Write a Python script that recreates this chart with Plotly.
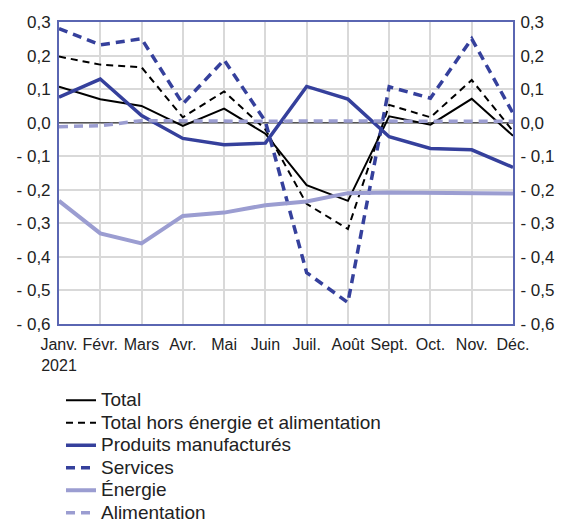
import plotly.graph_objects as go

months = ["Janv.", "Févr.", "Mars", "Avr.", "Mai", "Juin", "Juil.", "Août", "Sept.", "Oct.", "Nov.", "Déc."]
month_labels = ["Janv.<br>2021"] + months[1:]

total = [0.107, 0.07, 0.05, -0.01, 0.042, -0.033, -0.186, -0.233, 0.019, -0.006, 0.071, -0.039]
total_hors = [0.197, 0.173, 0.165, 0.016, 0.093, -0.02, -0.242, -0.317, 0.053, 0.016, 0.127, -0.025]
manufactures = [0.076, 0.13, 0.021, -0.047, -0.066, -0.061, 0.108, 0.07, -0.042, -0.077, -0.081, -0.133]
services = [0.28, 0.232, 0.25, 0.056, 0.187, 0.004, -0.447, -0.536, 0.107, 0.073, 0.25, 0.028]
energie = [-0.233, -0.33, -0.36, -0.278, -0.268, -0.246, -0.235, -0.21, -0.208, -0.209, -0.21, -0.211]
alimentation = [-0.012, -0.009, 0.006, 0.005, 0.003, 0.004, 0.005, 0.005, 0.004, 0.004, 0.005, 0.004]

ytickvals = [0.3, 0.2, 0.1, 0.0, -0.1, -0.2, -0.3, -0.4, -0.5, -0.6]
yticktext = ["0,3", "0,2", "0,1", "0,0", "- 0,1", "- 0,2", "- 0,3", "- 0,4", "- 0,5", "- 0,6"]

DARK = "#35409c"
LIGHT = "#9b9dd1"
AXIS = "#5a66b2"
FAM = "Liberation Sans, Arial, sans-serif"

x = list(range(12))
series = [
    ("Total", total, dict(color="black", width=2)),
    ("Total hors énergie et alimentation", total_hors, dict(color="black", width=2, dash="7px,5px")),
    ("Produits manufacturés", manufactures, dict(color=DARK, width=3.5)),
    ("Services", services, dict(color=DARK, width=3.5, dash="9px,6px")),
    ("Énergie", energie, dict(color=LIGHT, width=4)),
    ("Alimentation", alimentation, dict(color=LIGHT, width=3.5, dash="9px,6px")),
]

fig = go.Figure()
fig.add_trace(go.Scatter(x=[0, 11], y=[0, 0], mode="lines", line=dict(color="#555555", width=1.5),
                         showlegend=False, hoverinfo="skip"))
for i, (name, vals, line) in enumerate(series):
    fig.add_trace(go.Scatter(x=x, y=vals, mode="lines", line=line, legendgroup=f"g{i}",
                             name=f'<span style="font-size:19px">{name}</span>'))
fig.add_trace(go.Scatter(x=[0], y=[0], yaxis="y2", mode="lines", line=dict(width=0),
                         showlegend=False, hoverinfo="skip"))

yfont = dict(family=FAM, size=17, color="#222222")
xfont = dict(family=FAM, size=16, color="#222222")
fig.update_layout(
    width=566, height=523,
    margin=dict(l=59, r=53, t=22, b=199, autoexpand=False),
    paper_bgcolor="white", plot_bgcolor="white",
    font=dict(family=FAM, size=16, color="#222222"),
    showlegend=True,
    legend=dict(xref="container", yref="container", x=61 / 566, y=1 - 384 / 523,
                xanchor="left", yanchor="top", orientation="v",
                tracegroupgap=0, font=dict(family=FAM, size=15, color="#222222"),
                bgcolor="rgba(0,0,0,0)"),
    xaxis=dict(range=[0, 11], tickvals=x, ticktext=month_labels, showgrid=True, gridcolor="#d9d9d9",
               gridwidth=1.5, showline=True, linecolor=AXIS, linewidth=2, mirror=True,
               ticks="outside", ticklen=5, tickcolor="rgba(0,0,0,0)",
               zeroline=False, tickfont=xfont),
    yaxis=dict(range=[-0.6, 0.3], tickvals=ytickvals, ticktext=yticktext, showgrid=True,
               gridcolor="#d9d9d9", gridwidth=1.5, showline=True, linecolor=AXIS, linewidth=2,
               mirror=True, ticks="outside", ticklen=3, tickcolor="rgba(0,0,0,0)",
               zeroline=False, tickfont=yfont),
    yaxis2=dict(range=[-0.6, 0.3], tickvals=ytickvals, ticktext=yticktext, overlaying="y",
                side="right", showgrid=False, showline=False, ticks="outside", ticklen=3,
                tickcolor="rgba(0,0,0,0)", zeroline=False, tickfont=yfont),
)
fig.write_html("out.html", config={"displayModeBar": False},
               post_script="document.body.style.margin='0';")
